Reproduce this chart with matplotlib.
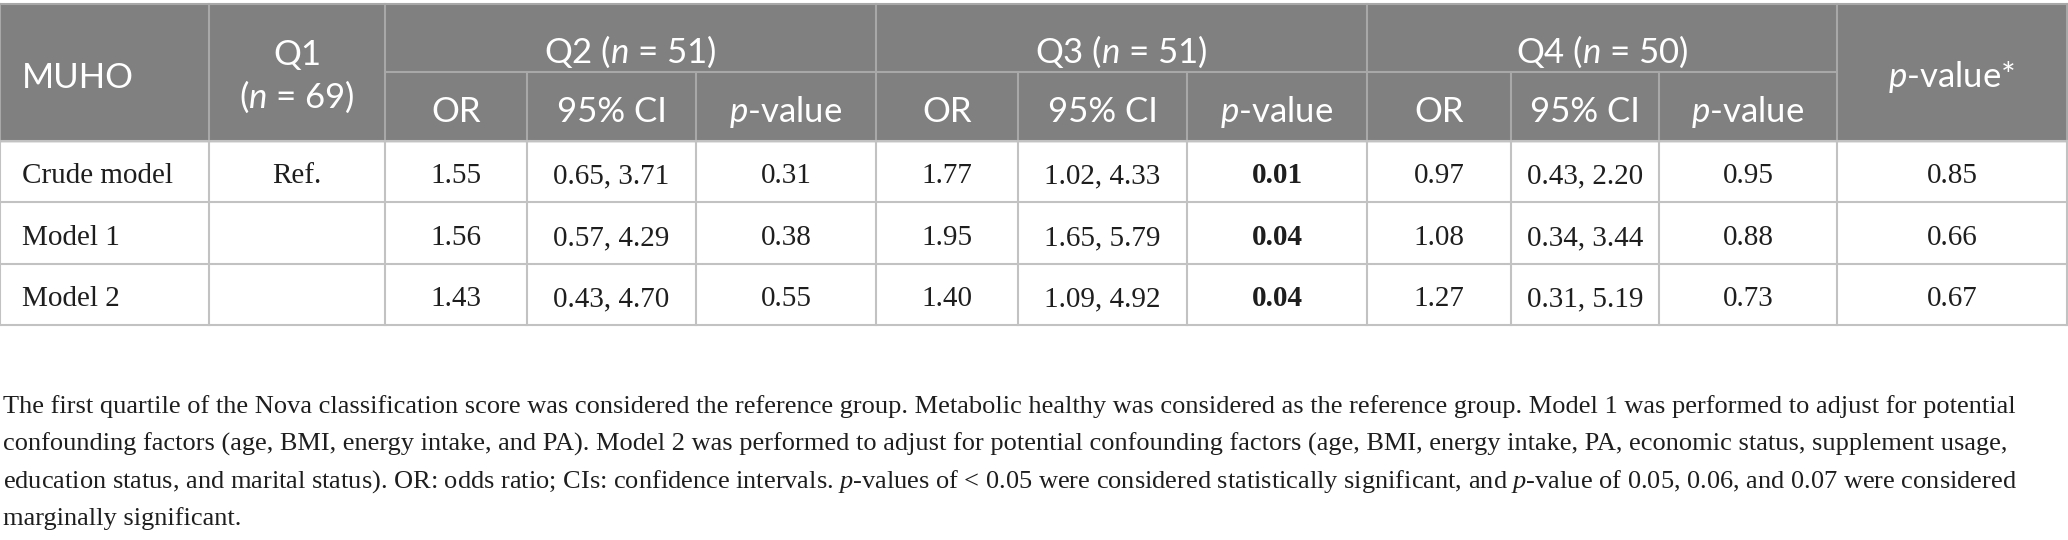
import matplotlib.pyplot as plt
from matplotlib.patches import Rectangle

# ---- table content ----
row_labels = ['Crude model', 'Model 1', 'Model 2']
q1_ref = ['Ref.', '', '']
q1_n = 69
groups = ['Q2', 'Q3', 'Q4']
group_n = [51, 51, 50]
sub_labels = ['OR', '95% CI', r'$p$-value']

q2_or = ['1.55', '1.56', '1.43']
q2_ci = ['0.65, 3.71', '0.57, 4.29', '0.43, 4.70']
q2_p = ['0.31', '0.38', '0.55']
q3_or = ['1.77', '1.95', '1.40']
q3_ci = ['1.02, 4.33', '1.65, 5.79', '1.09, 4.92']
q3_p = ['0.01', '0.04', '0.04']
q4_or = ['0.97', '1.08', '1.27']
q4_ci = ['0.43, 2.20', '0.34, 3.44', '0.31, 5.19']
q4_p = ['0.95', '0.88', '0.73']
p_trend = ['0.85', '0.66', '0.67']

footnote = [
    'The first quartile of the Nova classification score was considered the reference group. '
    'Metabolic healthy was considered as the reference group. Model 1 was performed to adjust for potential',
    'confounding factors (age, BMI, energy intake, and PA). Model 2 was performed to adjust for potential '
    'confounding factors (age, BMI, energy intake, PA, economic status, supplement usage,',
    'education status, and marital status). OR: odds ratio; CIs: confidence intervals. '
    r'$p$-values of < 0.05 were considered statistically significant, and $p$-value of 0.05, 0.06, and 0.07 were considered',
    'marginally significant.',
]

plt.rcParams['mathtext.fontset'] = 'custom'
plt.rcParams['mathtext.rm'] = 'Liberation Serif'
plt.rcParams['mathtext.it'] = 'Liberation Serif:italic'
plt.rcParams['mathtext.bf'] = 'Liberation Serif:bold'
plt.rcParams['mathtext.bfit'] = 'Lato:italic'

W, H = 2068, 540
fig = plt.figure(figsize=(W / 100, H / 100), dpi=100)
ax = fig.add_axes([0, 0, 1, 1])
ax.set_xlim(0, W)
ax.set_ylim(H, 0)
ax.axis('off')

edges = [0, 209, 385, 527, 696, 876, 1018, 1187, 1367, 1511, 1659, 1837, W - 1]
top, mid, hbot = 4, 72, 141
rows_y = [141, 202, 264, 325]
header_bg = '#7f807f'
head_line = '#a8a8a8'
body_line = '#c2c2c2'
txt = '#1e1e1e'
sans = 'Lato'
serif = 'Liberation Serif'
hsize = 25
bsize = 21

ax.add_patch(Rectangle((0, top), W - 1, hbot - top, color=header_bg, zorder=0))

# grid lines
ax.plot([0, W - 1], [top, top], color=head_line, lw=1.5)
ax.plot([edges[2], edges[11]], [mid, mid], color=head_line, lw=1.5)
for y in rows_y:
    ax.plot([0, W - 1], [y, y], color=body_line, lw=1.5)
span_inner = {3, 4, 6, 7, 9, 10}
for i, x in enumerate(edges):
    y0 = mid if i in span_inner else top
    ax.plot([x, x], [y0, hbot], color=head_line, lw=1.5)
    ax.plot([x, x], [hbot, rows_y[-1]], color=body_line, lw=1.5)

# header text
hkw = dict(color='white', fontsize=hsize, family=sans, ha='center', va='baseline')
ax.text(22, 88, 'MUHO', **{**hkw, 'ha': 'left'})
c1 = (edges[1] + edges[2]) / 2
ax.text(c1, 65, 'Q1', **hkw)
ax.text(c1, 108, r'($\mathbfit{n}$ = %d)' % q1_n, **hkw)
for g, (name, n) in enumerate(zip(groups, group_n)):
    x0 = edges[2 + 3 * g]
    x1 = edges[5 + 3 * g]
    ax.text((x0 + x1) / 2, 63, name + r' ($\mathbfit{n}$ = %d)' % n, **hkw)
    for k, lab in enumerate(sub_labels):
        cx = (edges[2 + 3 * g + k] + edges[3 + 3 * g + k]) / 2
        ax.text(cx, 122, lab.replace('$p$', r'$\mathbfit{p}$'), **hkw)
ax.text((edges[11] + edges[12]) / 2, 87, r'$\mathbfit{p}$-value*', **hkw)

# body text
cols = [q1_ref, q2_or, q2_ci, q2_p, q3_or, q3_ci, q3_p, q4_or, q4_ci, q4_p, p_trend]
pcols = {3, 6, 9}
base = [183, 245, 306]
for r, lab in enumerate(row_labels):
    ax.text(22, base[r], lab, color=txt, fontsize=bsize, family=serif, va='baseline')
    for c, col in enumerate(cols):
        val = col[r]
        if not val:
            continue
        bold = c in pcols and float(val) < 0.05
        cx = (edges[1 + c] + edges[2 + c]) / 2
        ax.text(cx, base[r], val, color=txt, fontsize=bsize, family=serif,
                fontweight='bold' if bold else 'normal', ha='center', va='baseline')

# footnote
for i, line in enumerate(footnote):
    ax.text(3, 413 + 37.3 * i, line, color=txt, fontsize=19, family=serif, va='baseline')

fig.savefig('out.png', dpi=100)
